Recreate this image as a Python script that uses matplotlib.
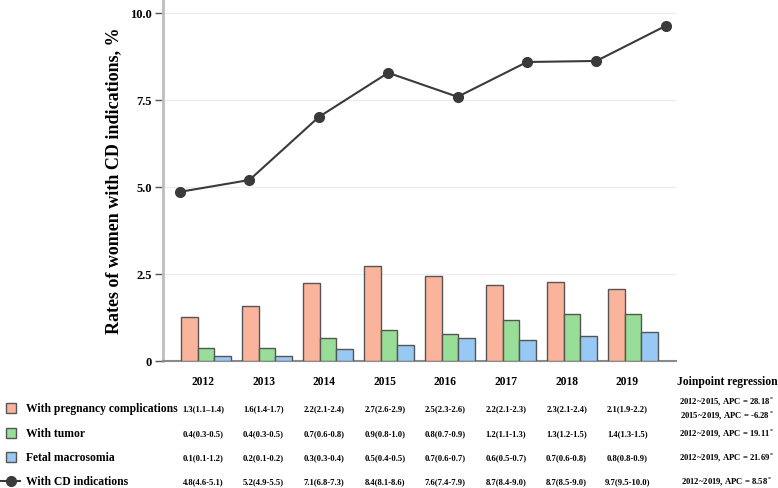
import numpy as np
import matplotlib
matplotlib.use("Agg")
import matplotlib.pyplot as plt
from matplotlib.patches import Rectangle
from matplotlib.lines import Line2D

plt.rcParams['font.family'] = ['Liberation Serif', 'DejaVu Serif']
plt.rcParams['font.weight'] = 'bold'
plt.rcParams['mathtext.fontset'] = 'stix'

years = ['2012', '2013', '2014', '2015', '2016', '2017', '2018', '2019']

# bar heights (%)
pregnancy = [1.26, 1.58, 2.24, 2.73, 2.44, 2.18, 2.27, 2.07]
tumor = [0.37, 0.37, 0.66, 0.89, 0.78, 1.18, 1.35, 1.35]
macrosomia = [0.14, 0.13, 0.34, 0.46, 0.66, 0.60, 0.72, 0.83]
# line
cd_rate = [4.86, 5.20, 7.01, 8.28, 7.59, 8.59, 8.62, 9.63]

series_names = ['With pregnancy complications', 'With tumor', 'Fetal macrosomia']
line_name = 'With CD indications'

table_rows = [
    ['1.3(1.1\u20131.4)', '1.6(1.4-1.7)', '2.2(2.1-2.4)', '2.7(2.6-2.9)',
     '2.5(2.3-2.6)', '2.2(2.1-2.3)', '2.3(2.1-2.4)', '2.1(1.9-2.2)'],
    ['0.4(0.3-0.5)', '0.4(0.3-0.5)', '0.7(0.6-0.8)', '0.9(0.8-1.0)',
     '0.8(0.7-0.9)', '1.2(1.1-1.3)', '1.3(1.2-1.5)', '1.4(1.3-1.5)'],
    ['0.1(0.1-1.2)', '0.2(0.1-0.2)', '0.3(0.3-0.4)', '0.5(0.4-0.5)',
     '0.7(0.6-0.7)', '0.6(0.5-0.7)', '0.7(0.6-0.8)', '0.8(0.8-0.9)'],
    ['4.8(4.6-5.1)', '5.2(4.9-5.5)', '7.1(6.8-7.3)', '8.4(8.1-8.6)',
     '7.6(7.4-7.9)', '8.7(8.4-9.0)', '8.7(8.5-9.0)', '9.7(9.5-10.0)'],
]
joinpoint = [
    ['2012~2015, APC = 28.18$^*$', '2015~2019, APC = -6.28$^*$'],
    ['2012~2019, APC = 19.11$^*$'],
    ['2012~2019, APC = 21.69$^*$'],
    ['2012~2019, APC = 8.58$^*$'],
]

colors = ['#FBB49C', '#98DE98', '#98C8F4']
edge = '#555555'
line_color = '#3a3a3a'

W, H = 778, 489
fig = plt.figure(figsize=(W / 100, H / 100), dpi=100)
ax = fig.add_axes([163 / W, (H - 362) / H, (676 - 163) / W, 362 / H])

x = np.arange(len(years))
bw = 0.27
for k, vals in enumerate([pregnancy, tumor, macrosomia]):
    ax.bar(x + (k - 1) * bw, vals, width=bw, color=colors[k],
           edgecolor=edge, linewidth=1.0, zorder=3)

ax.set_xlim(-0.705, 7.705)
ax.set_ylim(0, 10.4)
ax.set_yticks([0, 2.5, 5.0, 7.5, 10.0])
ax.set_yticklabels(['0', '2.5', '5.0', '7.5', '10.0'], fontsize=9, fontweight='bold')
ax.set_xticks([])
ax.yaxis.grid(True, color='#ececec', linewidth=0.9, zorder=0)
ax.set_axisbelow(True)
for s in ['top', 'right']:
    ax.spines[s].set_visible(False)
ax.spines['left'].set_color('#bdbdbd')
ax.spines['left'].set_linewidth(2)
ax.spines['bottom'].set_color('#8a8a8a')
ax.spines['bottom'].set_linewidth(1.5)
ax.tick_params(axis='y', length=6, width=1, color='#555555', pad=2)
ax.set_ylabel('Rates of women with CD indications, %', fontsize=13,
              fontweight='bold', labelpad=6)

# line on its own x scale, as in the original
ax2 = ax.twiny()
ax2.plot(x, cd_rate, color=line_color, linewidth=1.5, marker='o',
         markersize=7, zorder=5)
ax2.set_xlim(-0.245, 7.147)
ax2.set_xticks([])
for s in ax2.spines.values():
    s.set_visible(False)

# table below the plot
col_x = [203 + 60.6 * i for i in range(len(years))]
jp_x = 727
year_y = 382
row_y = [409, 434, 458, 482]

for cx, yr in zip(col_x, years):
    fig.text(cx / W, 1 - year_y / H, yr, ha='center', va='center',
             fontsize=8.3, fontweight='bold')
fig.text(jp_x / W, 1 - year_y / H, 'Joinpoint regression', ha='center',
         va='center', fontsize=8.4, fontweight='bold')

for r, ry in enumerate(row_y):
    for cx, val in zip(col_x, table_rows[r]):
        fig.text(cx / W, 1 - ry / H, val, ha='center', va='center',
                 fontsize=6.2, fontweight='bold')
    lines = joinpoint[r]
    offs = [-7, 7] if len(lines) == 2 else [0]
    for ln, dy in zip(lines, offs):
        fig.text(jp_x / W, 1 - (ry + dy) / H, ln, ha='center', va='center',
                 fontsize=6.2, fontweight='bold')

# legend entries
for r in range(3):
    ry = row_y[r]
    fig.patches.append(Rectangle((6 / W, 1 - (ry + 5) / H), 10 / W, 10 / H,
                                 transform=fig.transFigure, facecolor=colors[r],
                                 edgecolor=edge, linewidth=1))
    fig.text(26 / W, 1 - ry / H, series_names[r], ha='left', va='center',
             fontsize=8.4, fontweight='bold')
fig.lines.append(Line2D([0, 20 / W], [1 - row_y[3] / H] * 2, transform=fig.transFigure,
                        color=line_color, linewidth=1.5))
fig.lines.append(Line2D([11 / W], [1 - row_y[3] / H], transform=fig.transFigure,
                        color=line_color, marker='o', markersize=7))
fig.text(26 / W, 1 - row_y[3] / H, line_name, ha='left', va='center',
         fontsize=8.4, fontweight='bold')

fig.savefig('out.png', dpi=100)
